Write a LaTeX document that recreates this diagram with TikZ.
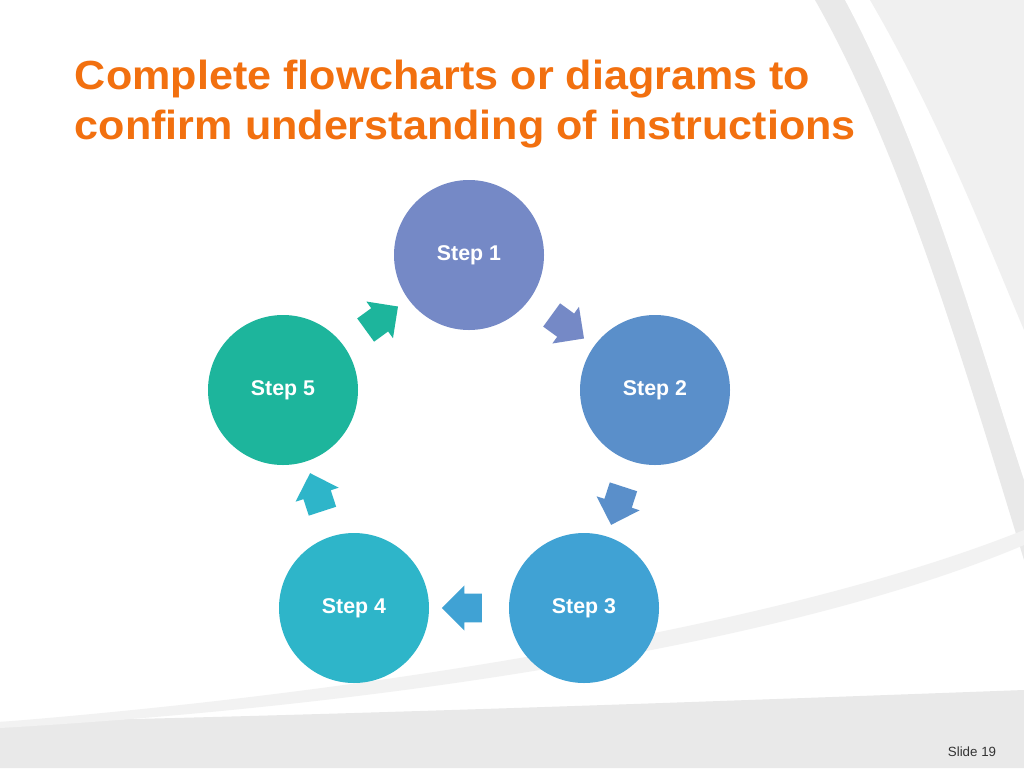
\documentclass[tikz,border=0pt]{standalone}
\usepackage{fontspec}
\setmainfont{Liberation Sans}
\usetikzlibrary{shapes.arrows,calc}
\definecolor{ttl}{HTML}{F2700F}
\definecolor{cA}{HTML}{7589C6}
\definecolor{cB}{HTML}{5A8FCA}
\definecolor{cC}{HTML}{40A2D4}
\definecolor{cD}{HTML}{2EB5C9}
\definecolor{cE}{HTML}{1DB59C}
\definecolor{bgg}{HTML}{E9E9E9}
\begin{document}
\begin{tikzpicture}[x=0.75pt,y=-0.75pt,
  stepc/.style={circle,minimum size=112.5pt,inner sep=0pt,text=white,font=\bfseries\fontsize{16}{18}\selectfont},
  blk/.style={single arrow,minimum height=30pt,minimum width=34pt,single arrow head extend=3pt,inner sep=5pt}]
\useasboundingbox (0,0) rectangle (1024,768);
\fill[white] (0,0) rectangle (1024,768);
% background swooshes
\fill[bgg] (815,0) .. controls (900,150) and (960,350) .. (1024,560) -- (1024,0) -- cycle;
\fill[white] (845,0) .. controls (925,150) and (975,330) .. (1024,480) -- (1024,0) -- cycle;
\fill[bgg!70] (870,0) .. controls (940,120) and (990,250) .. (1024,330) -- (1024,0) -- cycle;
\fill[bgg] (0,768) -- (0,722) .. controls (350,715) and (750,700) .. (1024,690) -- (1024,768) -- cycle;
\fill[bgg!60] (0,722) .. controls (400,690) and (800,620) .. (1024,530) -- (1024,545) .. controls (800,640) and (400,705) .. (0,728) -- cycle;
\node[anchor=west,text=ttl,font=\bfseries\fontsize{30.5}{38}\selectfont,align=left,xscale=1.06] (title) at (70,104) {Complete flowcharts or diagrams to\\confirm understanding of instructions};
\node[stepc,fill=cA] (s1) at (469,255) {Step 1};
\node[stepc,fill=cB] (s2) at (655,390) {Step 2};
\node[stepc,fill=cC] (s3) at (584,608) {Step 3};
\node[stepc,fill=cD] (s4) at (354,608) {Step 4};
\node[stepc,fill=cE] (s5) at (283,390) {Step 5};
\node[blk,fill=cA,rotate=-36] (a1) at ($(s1)!0.5!(s2)$) {};
\node[blk,fill=cB,rotate=-108] (a2) at ($(s2)!0.5!(s3)$) {};
\node[blk,fill=cC,rotate=180] (a3) at ($(s3)!0.5!(s4)$) {};
\node[blk,fill=cD,rotate=108] (a4) at ($(s4)!0.5!(s5)$) {};
\node[blk,fill=cE,rotate=36] (a5) at ($(s5)!0.5!(s1)$) {};
\node[font=\fontsize{10}{12}\selectfont,text=black!80] (sl) at (972,752) {Slide 19};
\end{tikzpicture}
\end{document}
